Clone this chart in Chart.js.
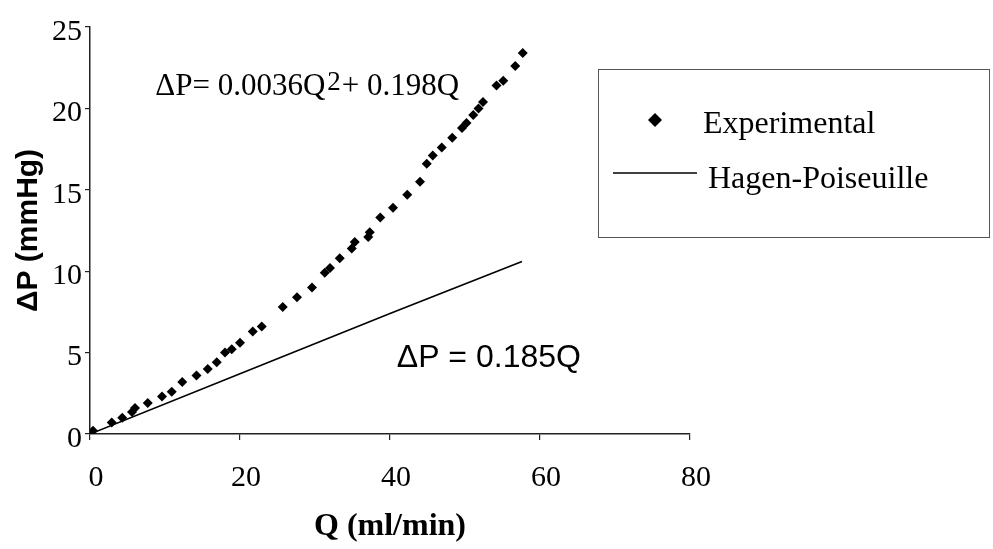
<!DOCTYPE html>
<html>
<head>
<meta charset="utf-8">
<script src="https://cdn.jsdelivr.net/npm/chart.js@4.4.1/dist/chart.umd.min.js"></script>
<style>
  html, body { margin: 0; padding: 0; background: #fff; }
  #wrap { width: 993px; height: 549px; }
</style>
</head>
<body>
<div id="wrap"><canvas id="chart" width="993" height="549"></canvas></div>
<script>
// experimental points (Q in ml/min, dP in mmHg)
const expQ = [0, 0.4, 2.9, 4.3, 5.6, 6.0, 7.7, 9.6, 10.9, 12.3, 14.2, 15.7, 16.9, 18.0, 18.9, 20.0, 21.7, 22.9,
              25.7, 27.6, 29.6, 31.3, 32.0, 33.3, 34.9, 35.3, 37.1, 37.3, 38.7, 40.4, 42.3, 44.0,
              44.9, 45.7, 46.9, 48.3, 49.6, 50.2, 51.1, 51.8, 52.4, 54.2, 55.1, 56.7, 57.7];
const expP = [0.0, 0.2, 0.7, 1.0, 1.35, 1.6, 1.9, 2.3, 2.6, 3.2, 3.6, 4.0, 4.4, 5.0, 5.2, 5.6, 6.3, 6.6,
              7.8, 8.4, 9.0, 9.9, 10.2, 10.8, 11.4, 11.8, 12.1, 12.4, 13.3, 13.9, 14.7, 15.5,
              16.6, 17.1, 17.6, 18.2, 18.8, 19.1, 19.6, 20.0, 20.4, 21.4, 21.7, 22.6, 23.4];

// Hagen-Poiseuille line
const hpQ = [0, 20, 40, 57.6];
const hpP = [0, 3.7, 7.4, 10.6];

const xTicks = [0, 20, 40, 60, 80];
const yTicks = [0, 5, 10, 15, 20, 25];

const serif = "'Liberation Serif', 'Times New Roman', serif";
const sans = "'Liberation Sans', Arial, sans-serif";

// equations + legend box
const extras = {
  id: 'extras',
  afterDraw(chart) {
    const ctx = chart.ctx;
    const xs = chart.scales.x, ys = chart.scales.y;
    ctx.save();
    ctx.fillStyle = '#000';
    ctx.textBaseline = 'alphabetic';
    ctx.textAlign = 'left';

    // dP = 0.0036Q^2 + 0.198Q
    let x = xs.getPixelForValue(8.7);
    let y = ys.getPixelForValue(20.8);
    ctx.font = "31px " + serif;
    let s = "\u0394P= 0.0036Q";
    ctx.fillText(s, x, y);
    x += ctx.measureText(s).width + 2;
    ctx.font = "27px " + serif;
    ctx.fillText("2", x, y - 5);
    x += ctx.measureText("2").width + 1;
    ctx.font = "31px " + serif;
    ctx.fillText("+ 0.198Q", x, y);

    // dP = 0.185Q
    ctx.font = "32px " + sans;
    ctx.fillText("\u0394P = 0.185Q", xs.getPixelForValue(40.9), ys.getPixelForValue(4.1));

    // legend
    ctx.strokeStyle = '#555';
    ctx.lineWidth = 1;
    ctx.strokeRect(598.5, 69.5, 391, 168);
    const ds = chart.data.datasets;
    ctx.fillStyle = '#000';
    ctx.beginPath();
    ctx.moveTo(655, 113); ctx.lineTo(662, 120); ctx.lineTo(655, 127); ctx.lineTo(648, 120);
    ctx.closePath();
    ctx.fill();
    ctx.font = "32px " + serif;
    ctx.fillText(ds[0].label, 703, 133);
    ctx.strokeStyle = '#000';
    ctx.lineWidth = 1.3;
    ctx.beginPath();
    ctx.moveTo(613, 173); ctx.lineTo(697, 173);
    ctx.stroke();
    ctx.fillText(ds[1].label, 708, 188);
    ctx.restore();
  }
};

new Chart(document.getElementById('chart'), {
  type: 'scatter',
  data: {
    datasets: [
      {
        label: 'Experimental',
        data: expQ.map((q, i) => ({ x: q, y: expP[i] })),
        pointStyle: 'rectRot',
        pointRadius: 5,
        backgroundColor: '#000',
        borderColor: '#000',
        borderWidth: 0,
        showLine: false
      },
      {
        label: 'Hagen-Poiseuille',
        data: hpQ.map((q, i) => ({ x: q, y: hpP[i] })),
        showLine: true,
        pointRadius: 0,
        borderColor: '#000',
        borderWidth: 1.6,
        tension: 0
      }
    ]
  },
  options: {
    responsive: false,
    animation: false,
    layout: { padding: { top: 27, right: 303, left: 0, bottom: 0 } },
    plugins: { legend: { display: false }, tooltip: { enabled: false } },
    scales: {
      x: {
        type: 'linear',
        min: 0, max: 80,
        afterBuildTicks: (s) => { s.ticks = xTicks.map(v => ({ value: v })); },
        afterFit: (s) => { s.height = 115; },
        grid: { drawOnChartArea: false, drawTicks: true, tickLength: 6, color: '#222', lineWidth: 1.2 },
        border: { display: true, color: '#222', width: 1.5 },
        ticks: { color: '#000', padding: 20, labelOffset: 6, font: { family: serif, size: 30 } },
        title: {
          display: true, text: 'Q (ml/min)', color: '#000',
          font: { family: serif, size: 32, weight: 'bold' },
          padding: { top: 0, bottom: 3 }
        }
      },
      y: {
        type: 'linear',
        min: 0, max: 25,
        afterBuildTicks: (s) => { s.ticks = yTicks.map(v => ({ value: v })); },
        afterFit: (s) => { s.width = 90; },
        grid: { drawOnChartArea: false, drawTicks: true, tickLength: 5, color: '#222', lineWidth: 1.2 },
        border: { display: true, color: '#222', width: 1.5 },
        ticks: { color: '#000', padding: 3, labelOffset: 5, font: { family: serif, size: 30 } },
        title: {
          display: true, text: '\u0394P (mmHg)', color: '#000',
          font: { family: sans, size: 30, weight: 'bold' },
          padding: { top: 11, bottom: 0 }
        }
      }
    }
  },
  plugins: [extras]
});
</script>
</body>
</html>
